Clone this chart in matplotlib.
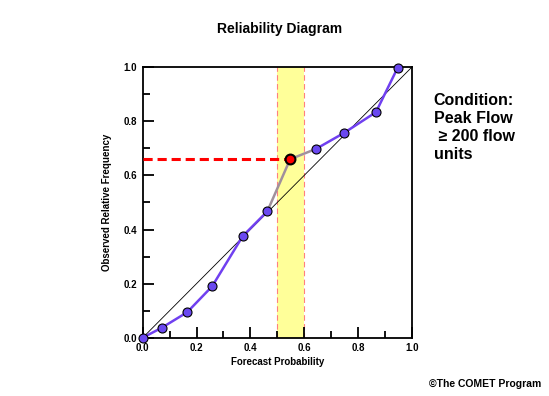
import numpy as np
import matplotlib
matplotlib.use("Agg")
import matplotlib.pyplot as plt
from matplotlib.ticker import MultipleLocator

plt.rcParams["font.family"] = ["Liberation Sans", "DejaVu Sans"]

# ---------------------------------------------------------------------------
# Data
# ---------------------------------------------------------------------------
forecast_prob = [0.0, 0.071, 0.165, 0.258, 0.372, 0.463, 0.548, 0.644, 0.748, 0.867, 0.948]
observed_freq = [0.0, 0.037, 0.094, 0.190, 0.376, 0.467, 0.660, 0.698, 0.757, 0.834, 0.999]
highlight_idx = 6
band = [0.5, 0.6]
condition_text = "Condition:\nPeak Flow\n \u2265 200 flow\nunits"

# ---------------------------------------------------------------------------
# Figure
# ---------------------------------------------------------------------------
fig = plt.figure(figsize=(5.49, 3.96), dpi=100)
ax = fig.add_axes([0.26, 0.1472, 0.49, 0.683])

ax.set_xlim(0, 1)
ax.set_ylim(0, 1)

# Yellow probability band with dashed edges
ax.axvspan(band[0], band[1], color="#ffff99", zorder=0, lw=0)
for xb in band:
    ax.axvline(xb, color="#ff8080", lw=0.8, ls=(0, (5, 3)), zorder=1)

# Perfect reliability diagonal
ax.plot([0, 1], [0, 1], color="black", lw=0.6, zorder=2)

# Reliability curve
x = np.array(forecast_prob)
y = np.array(observed_freq)
h = highlight_idx
ax.plot(x[:h], y[:h], color="#7040f0", lw=1.8, zorder=3, clip_on=False)
ax.plot(x[h + 1:], y[h + 1:], color="#7040f0", lw=1.8, zorder=3, clip_on=False)
ax.plot(x[h - 1:h + 2], y[h - 1:h + 2], color="#a0909c", lw=1.8, zorder=3)

# Dashed guide from y-axis to highlighted point
ax.plot([0, x[h]], [y[h], y[h]], color="#ff0000", lw=2.2, ls=(0, (3, 1.6)), zorder=3,
        clip_on=False)

mask = np.arange(len(x)) != h
ax.scatter(x[mask], y[mask], s=42, color="#6a48f0", edgecolor="black", lw=0.8,
           zorder=4, clip_on=False)
ax.scatter([x[h]], [y[h]], s=50, color="#ff0000", edgecolor="black", lw=1.5,
           zorder=5, clip_on=False)

# Axes styling
for s in ax.spines.values():
    s.set_linewidth(1.3)
ax.xaxis.set_major_locator(MultipleLocator(0.2))
ax.xaxis.set_minor_locator(MultipleLocator(0.1))
ax.yaxis.set_major_locator(MultipleLocator(0.2))
ax.yaxis.set_minor_locator(MultipleLocator(0.1))
ax.tick_params(which="major", direction="in", length=8, width=1.3, labelsize=7, pad=4)
ax.tick_params(which="minor", direction="in", length=5, width=1.3)
ax.set_xticklabels([f"{v:.1f}" for v in ax.get_xticks()], fontweight="bold")
ax.set_yticklabels([f"{v:.1f}" for v in ax.get_yticks()], fontweight="bold")

ax.set_xlabel("Forecast Probability", fontsize=7, fontweight="bold", labelpad=3)
ax.set_ylabel("Observed Relative Frequency", fontsize=7, fontweight="bold", labelpad=8)

fig.text(0.51, 0.928, "Reliability Diagram", ha="center", va="center",
         fontsize=10, fontweight="bold")
fig.text(0.79, 0.765, condition_text, ha="left", va="top", fontsize=11.5,
         fontweight="bold", linespacing=1.25)
fig.text(0.985, 0.03, "\u00a9The COMET Program", ha="right", va="center",
         fontsize=7.5, fontweight="bold")

fig.savefig("out.png", dpi=100)
